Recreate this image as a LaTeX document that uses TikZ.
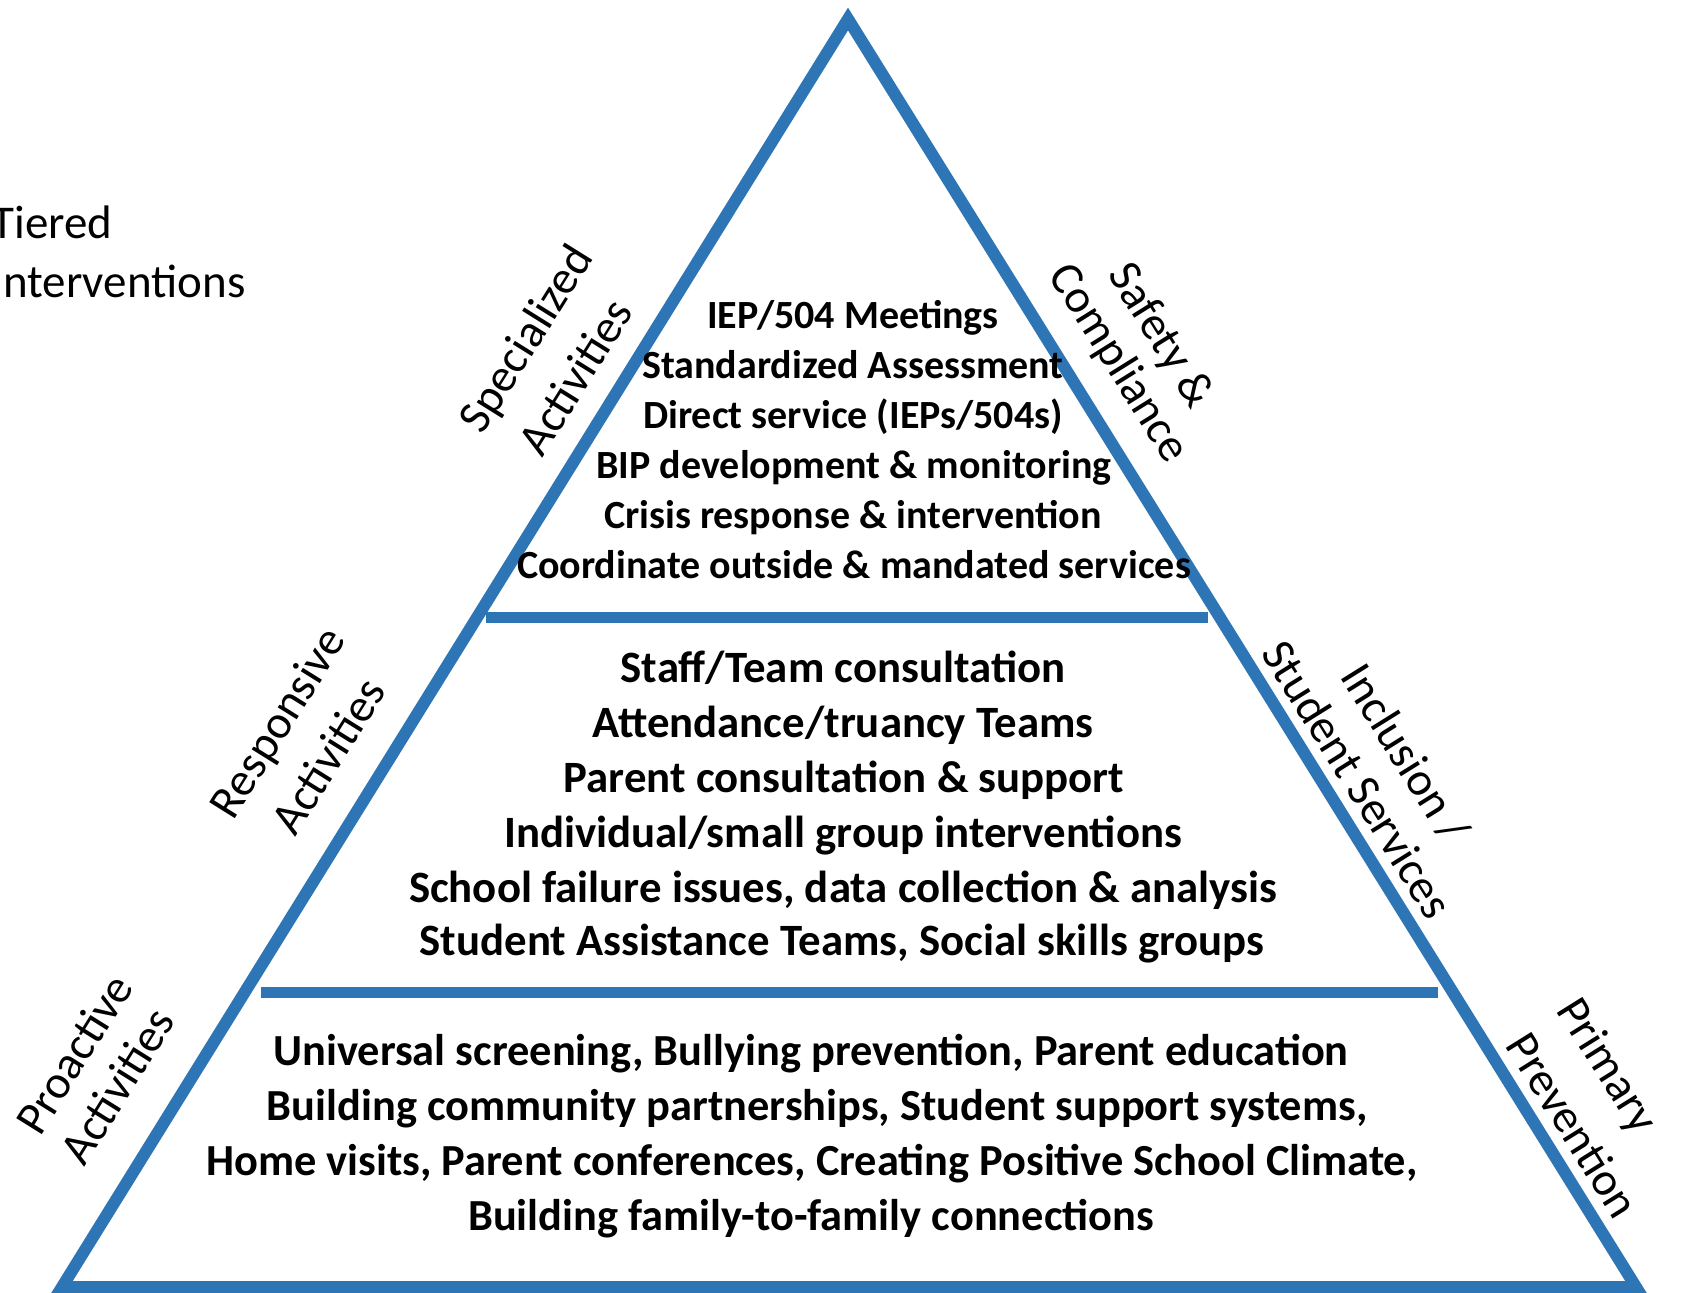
\documentclass[tikz,border=0pt]{standalone}
\usepackage{fontspec}
\setmainfont{Carlito}
\definecolor{pyrblue}{RGB}{46,117,182}
\begin{document}
\begin{tikzpicture}[x=0.5pt,y=-0.5pt,
  edge/.style={draw=pyrblue,line width=6pt,line join=miter},
  divider/.style={draw=pyrblue,line width=5.5pt},
  tierone/.style={font=\bfseries\fontsize{20}{24}\selectfont,inner sep=0pt,anchor=base},
  tiertwo/.style={font=\bfseries\fontsize{22.4}{26}\selectfont,inner sep=0pt,anchor=base},
  tierthree/.style={font=\bfseries\fontsize{22.2}{26}\selectfont,inner sep=0pt,anchor=base},
  sidelabel/.style={font=\fontsize{23.5}{28}\selectfont,inner sep=0pt},
  leftlabel/.style={sidelabel,rotate=58},
  rightlabel/.style={sidelabel,rotate=-58}
]
\useasboundingbox (0,0) rectangle (1683,1292);
\clip (0,0) rectangle (1683,1292);
% triangle
\coordinate (apex) at (848,19);
\coordinate (bl) at (62,1287);
\coordinate (br) at (1636,1287);
\draw[edge] (apex) -- (bl) -- (br) -- cycle;
% dividers
\coordinate (d1l) at (486,617);
\coordinate (d1r) at (1208,617);
\coordinate (d2l) at (261,992);
\coordinate (d2r) at (1438,992);
\draw[divider] (d1l) -- (d1r);
\draw[divider] (d2l) -- (d2r);
% title
\node[sidelabel,anchor=base west] (tiered) at (-9,238) {Tiered};
\node[sidelabel,anchor=base west] (interv) at (-9,297) {Interventions};
% tier 1
\node[tierone] (t1a) at (853,328) {IEP/504 Meetings};
\node[tierone] (t1b) at (853,378) {Standardized Assessment};
\node[tierone] (t1c) at (853,428) {Direct service (IEPs/504s)};
\node[tierone] (t1d) at (854,478) {BIP development \& monitoring};
\node[tierone] (t1e) at (853,528) {Crisis response \& intervention};
\node[tierone] (t1f) at (854,578) {Coordinate outside \& mandated services};
% tier 2
\node[tiertwo] (t2a) at (843,682) {Staff/Team consultation};
\node[tiertwo] (t2b) at (843,737) {Attendance/truancy Teams};
\node[tiertwo] (t2c) at (844,792) {Parent consultation \& support};
\node[tiertwo] (t2d) at (843,847) {Individual/small group interventions};
\node[tiertwo] (t2e) at (843,902) {School failure issues, data collection \& analysis};
\node[tiertwo] (t2f) at (842,955) {Student Assistance Teams, Social skills groups};
% tier 3
\node[tierthree] (t3a) at (811,1065) {Universal screening, Bullying prevention, Parent education};
\node[tierthree] (t3b) at (817,1120) {Building community partnerships, Student support systems,};
\node[tierthree] (t3c) at (812,1175) {Home visits, Parent conferences, Creating Positive School Climate,};
\node[tierthree] (t3d) at (811,1230) {Building family-to-family connections};
% left side labels
\node[leftlabel] (spec) at (528,340) {Specialized};
\node[leftlabel] (act1) at (575,377) {Activities};
\node[leftlabel] (resp) at (280,724) {Responsive};
\node[leftlabel] (act2) at (328,756) {Activities};
\node[leftlabel] (proa) at (74,1054) {Proactive};
\node[leftlabel] (act3) at (117,1086) {Activities};
% right side labels
\node[rightlabel] (safe) at (1160,336) {Safety \&};
\node[rightlabel] (comp) at (1118,364) {Compliance};
\node[rightlabel] (incl) at (1405,753) {Inclusion /};
\node[rightlabel] (stud) at (1358,779) {Student Services};
\node[rightlabel] (prim) at (1606,1067) {Primary};
\node[rightlabel] (prev) at (1573,1125) {Prevention};
\end{tikzpicture}
\end{document}
